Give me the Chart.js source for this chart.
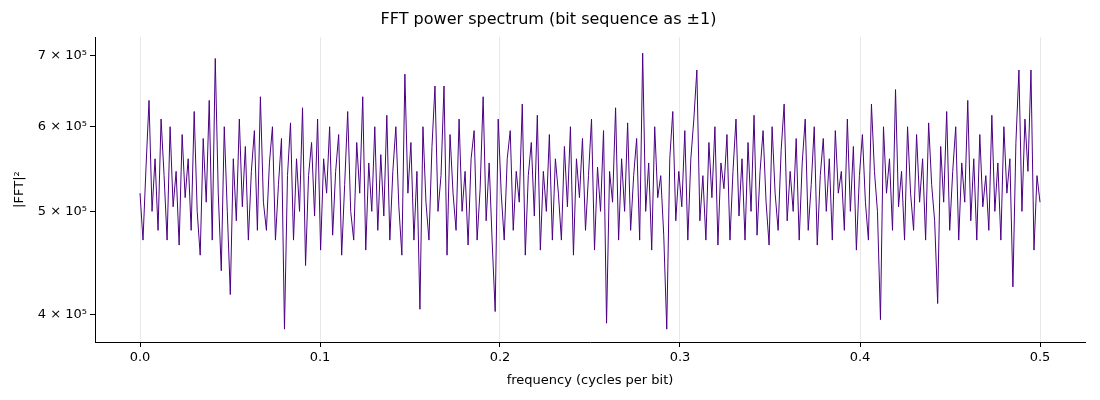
<!DOCTYPE html>
<html><head><meta charset="utf-8">
<script src="https://cdn.jsdelivr.net/npm/chart.js@4"></script>
<style>html,body{margin:0;padding:0;background:#fff}#w{width:1100px;height:400px}</style>
</head><body><div id="w"><canvas id="c"></canvas></div>
<script>
const powerK = [
520,470,550,635,500,560,480,610,540,470,
600,505,545,465,590,515,560,480,620,500,
455,585,510,635,470,695,520,440,600,500,
418,560,490,610,505,575,470,545,595,480,
640,510,480,555,600,470,530,585,388,540,
605,470,560,500,625,445,540,580,495,610,
460,560,520,600,475,545,590,455,530,620,
500,470,580,520,640,460,555,500,600,480,
565,495,615,470,545,600,505,455,672,520,
580,470,545,405,600,510,470,575,655,500,
540,655,455,590,520,480,610,500,545,465,
560,595,470,525,640,490,555,468,403,610,
520,470,560,595,480,545,510,630,455,540,
580,495,615,460,545,500,590,470,560,520,
470,575,505,600,455,560,515,585,480,540,
610,460,550,500,595,393,545,510,625,470,
560,500,605,480,540,585,470,703,500,555,
460,600,515,540,475,388,560,620,490,545,
505,595,470,560,610,678,490,540,470,580,
515,600,465,555,525,590,470,545,610,495,
560,470,580,500,615,475,545,595,510,465,
600,520,480,570,630,490,545,500,585,470,
555,610,480,530,600,465,540,585,500,560,
470,595,520,545,480,610,500,575,460,540,
590,510,470,630,545,500,396,600,520,560,
480,650,505,545,470,600,520,480,590,510,
560,470,605,530,490,410,575,510,620,480,
545,600,470,555,510,635,490,560,470,590,
505,540,480,615,500,555,470,600,520,560,
425,580,678,500,610,545,678,460,540,510];
const freqMax = 0.5;
const xTicks = [0,0.1,0.2,0.3,0.4,0.5];
const yTicks = [4e5,5e5,6e5,7e5];
const pts = powerK.map((v,i)=>({x:i*freqMax/(powerK.length-1), y:v*1000}));
const F = "'DejaVu Sans', sans-serif";
new Chart(document.getElementById('c'),{
 type:'line',
 data:{datasets:[{data:pts,borderColor:'#4b0082',borderWidth:1,pointRadius:0,tension:0}]},
 options:{responsive:true,maintainAspectRatio:false,animation:false,
  layout:{padding:{left:12,right:15,top:0,bottom:12}},
  plugins:{legend:{display:false},tooltip:{enabled:false},
   title:{display:true,text:'FFT power spectrum (bit sequence as ±1)',color:'#000',font:{family:F,size:16,weight:'normal'},padding:{top:10,bottom:8}}},
  scales:{
   x:{type:'linear',min:-0.025,max:0.525,
    afterBuildTicks:a=>{a.ticks=xTicks.map(v=>({value:v}));},
    afterFit:a=>{a.height=46;},
    ticks:{color:'#000',font:{family:F,size:13},maxRotation:0,callback:v=>v.toFixed(1)},
    grid:{color:'#e8e8e8',tickColor:'#000',tickLength:5},
    border:{color:'#000'},
    title:{display:true,text:'frequency (cycles per bit)',color:'#000',font:{family:F,size:13},padding:{top:2,bottom:0}}},
   y:{type:'logarithmic',min:377400,max:727600,
    afterBuildTicks:a=>{a.ticks=yTicks.map(v=>({value:v}));},
    afterFit:a=>{a.width=83;},
    ticks:{color:'#000',font:{family:F,size:13},callback:v=>(v/1e5)+' × 10⁵'},
    grid:{drawOnChartArea:false,tickColor:'#000',tickLength:5},
    border:{color:'#000'},
    title:{display:true,text:'|FFT|²',color:'#000',font:{family:F,size:13},padding:{top:0,bottom:2}}}
  }}
});
</script></body></html>
